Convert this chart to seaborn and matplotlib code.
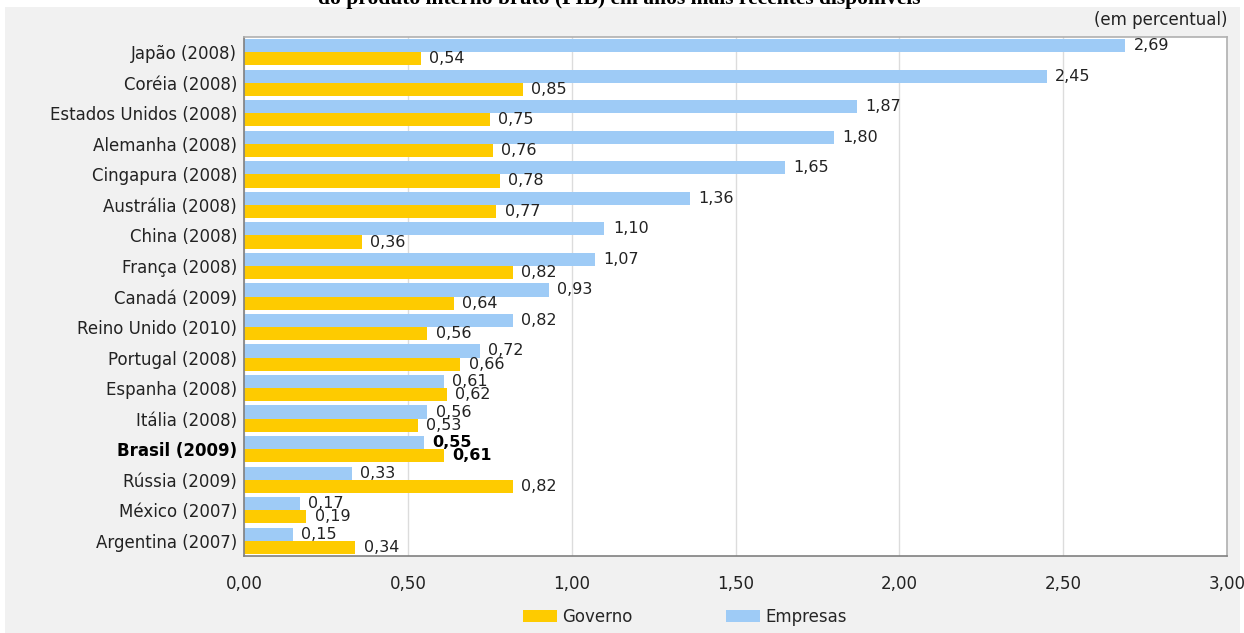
import matplotlib
matplotlib.use("Agg")
import matplotlib.pyplot as plt
from matplotlib.patches import Patch, Rectangle
import seaborn as sns
import pandas as pd

paises = ["Japão (2008)", "Coréia (2008)", "Estados Unidos (2008)", "Alemanha (2008)",
          "Cingapura (2008)", "Austrália (2008)", "China (2008)", "França (2008)",
          "Canadá (2009)", "Reino Unido (2010)", "Portugal (2008)", "Espanha (2008)",
          "Itália (2008)", "Brasil (2009)", "Rússia (2009)", "México (2007)",
          "Argentina (2007)"]
empresas = [2.69, 2.45, 1.87, 1.80, 1.65, 1.36, 1.10, 1.07, 0.93, 0.82, 0.72,
            0.61, 0.56, 0.55, 0.33, 0.17, 0.15]
governo = [0.54, 0.85, 0.75, 0.76, 0.78, 0.77, 0.36, 0.82, 0.64, 0.56, 0.66,
           0.62, 0.53, 0.61, 0.82, 0.19, 0.34]
xticks = [0.0, 0.5, 1.0, 1.5, 2.0, 2.5, 3.0]
destaque = "Brasil (2009)"

df = pd.DataFrame({
    "pais": paises * 2,
    "valor": empresas + governo,
    "setor": ["Empresas"] * len(paises) + ["Governo"] * len(paises),
})

sns.set_theme(style="white")
plt.rcParams["font.family"] = ["DejaVu Sans"]

W, H = 1244, 633
fig = plt.figure(figsize=(W / 100, H / 100), dpi=100)
fig.patch.set_facecolor("white")
fig.patches.append(Rectangle((5 / W, 0), (1240 - 5) / W, 1 - 7 / H,
                             transform=fig.transFigure, facecolor="#f1f1f1",
                             edgecolor="none", zorder=-10))

ax = fig.add_axes([244 / W, 1 - 556 / H, (1227 - 244) / W, (556 - 37) / H])
ax.set_facecolor("white")

blue = "#9ecbf6"
gold = "#fecb00"
sns.barplot(data=df, y="pais", x="valor", hue="setor", order=paises,
            hue_order=["Empresas", "Governo"], palette=[blue, gold],
            width=0.86, orient="h", ax=ax, legend=False, linewidth=0,
            saturation=1)

ax.set_xlim(0, 3.0)
ax.set_xticks(xticks)
ax.set_xticklabels([f"{v:.2f}".replace(".", ",") for v in xticks], fontsize=12,
                   color="#222222")
ax.tick_params(axis="x", length=0, pad=14)
ax.tick_params(axis="y", length=0, pad=5)
for lab in ax.get_yticklabels():
    lab.set_fontsize(12)
    lab.set_color("#222222")
    if lab.get_text() == destaque:
        lab.set_fontweight("bold")
        lab.set_color("black")
ax.set_xlabel("")
ax.set_ylabel("")
ax.grid(axis="x", color="#dcdcdc", linewidth=1)
ax.set_axisbelow(True)
for s in ["top", "right"]:
    ax.spines[s].set_color("#b0b0b0")
for s in ["left", "bottom"]:
    ax.spines[s].set_color("#808080")
for s in ax.spines.values():
    s.set_linewidth(1.2)

# value labels
conts = ax.containers
for cont, vals in zip(conts, [empresas, governo]):
    for bar, v, p in zip(cont, vals, paises):
        yc = bar.get_y() + bar.get_height() / 2
        ax.annotate(f"{v:.2f}".replace(".", ","), (bar.get_width(), yc),
                    xytext=(6, 0), textcoords="offset points", va="center",
                    ha="left", fontsize=11.5, color="#222222" if p != destaque else "black",
                    fontweight="bold" if p == destaque else "normal")

fig.text(1228 / W, 1 - 20 / H, "(em percentual)", ha="right", va="center",
         fontsize=12, color="#222222")
fig.text(619 / W, 1 - 4 / H,
         "do produto interno bruto (PIB) em anos mais recentes disponíveis",
         ha="center", va="baseline", fontsize=15.5, fontweight="bold",
         family=["Liberation Serif", "DejaVu Serif"], color="black")

handles = [Patch(facecolor=gold, edgecolor="none", label="Governo"),
           Patch(facecolor=blue, edgecolor="none", label="Empresas")]
fig.legend(handles=handles, loc="center", bbox_to_anchor=(685 / W, 1 - 617 / H),
           ncol=2, frameon=False, fontsize=12, handlelength=2.05,
           handleheight=0.7, handletextpad=0.3, columnspacing=5.6, borderpad=0)

fig.savefig("out.png", dpi=100)
